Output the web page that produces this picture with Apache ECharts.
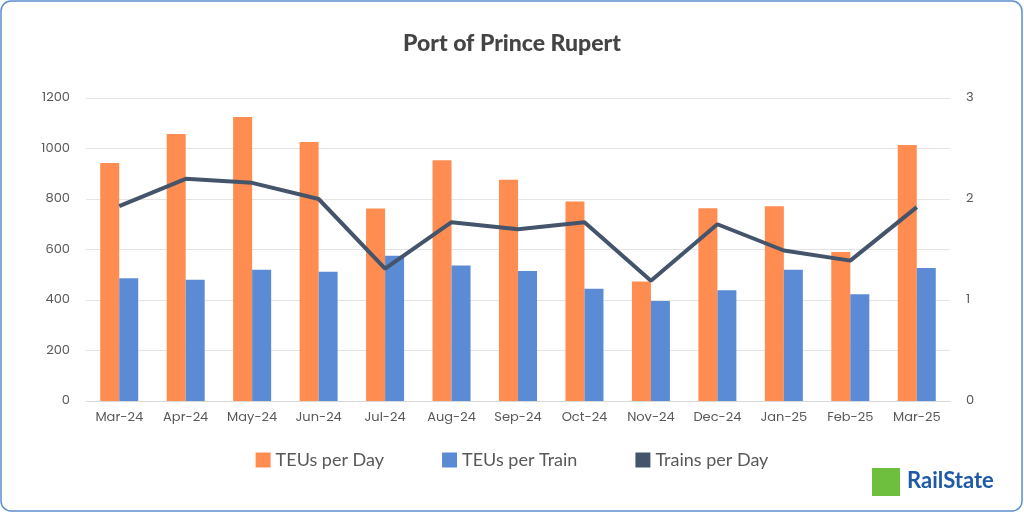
<!DOCTYPE html>
<html><head><meta charset="utf-8">
<script src="https://cdn.jsdelivr.net/npm/echarts@6/dist/echarts.min.js"></script>
<style>html,body{margin:0;padding:0;background:#fff}#c{width:1024px;height:513px}</style>
</head><body><div id="c"></div>
<script>
const categories=['Mar-24','Apr-24','May-24','Jun-24','Jul-24','Aug-24','Sep-24','Oct-24','Nov-24','Dec-24','Jan-25','Feb-25','Mar-25'];
const teusPerDay=[943,1057,1125,1026,762,953,876,790,473,763,771,590,1014];
const teusPerTrain=[486,480,520,512,575,537,515,445,396,439,520,423,527];
const trainsPerDay=[1.93,2.20,2.16,2.00,1.31,1.77,1.70,1.77,1.19,1.75,1.49,1.39,1.92];
const leftTicks=[0,200,400,600,800,1000,1200];
const rightTicks=[0,1,2,3];
const chart=echarts.init(document.getElementById('c'));
const lab={color:'#595959',fontSize:13,fontFamily:'Poppins, Lato, sans-serif'};
chart.setOption({
  animation:false,
  graphic:[
    {type:'rect',shape:{x:1,y:1,width:1021,height:510,r:10},style:{fill:'none',stroke:'#5b8fd0',lineWidth:1.5}},
    {type:'rect',shape:{x:872,y:468,width:28,height:28},style:{fill:'#6fbf3f'}},
    {type:'text',left:907,top:470,style:{text:'RailState',fill:'#1f5aa8',font:'bold 22px Lato, sans-serif'}}
  ],
  title:{text:'Port of Prince Rupert',left:'center',top:27,textStyle:{fontFamily:'Lato, sans-serif',fontWeight:900,fontSize:23,color:'#444'}},
  legend:{bottom:39,itemGap:58,itemWidth:15,itemHeight:15,textStyle:{fontSize:18,color:'#595959',fontFamily:'Lato, sans-serif'},
    data:[{name:'TEUs per Day',icon:'rect'},{name:'TEUs per Train',icon:'rect'},{name:'Trains per Day',icon:'rect',itemStyle:{color:'#44546a'}}]},
  grid:{left:86,right:74,top:98,bottom:112},
  xAxis:{type:'category',data:categories,axisTick:{show:false},axisLine:{lineStyle:{color:'#d9d9d9'}},axisLabel:Object.assign({margin:10},lab)},
  yAxis:[
    {type:'value',min:0,max:1200,interval:200,axisLabel:Object.assign({margin:16,formatter:v=>String(v)},lab),splitLine:{lineStyle:{color:'#e4e4e4'}}},
    {type:'value',min:0,max:3,interval:1,axisLabel:Object.assign({margin:16},lab),splitLine:{show:false}}
  ],
  series:[
    {name:'TEUs per Day',type:'bar',data:teusPerDay,barWidth:19,barGap:'0%',itemStyle:{color:'#ff8c50'}},
    {name:'TEUs per Train',type:'bar',data:teusPerTrain,barWidth:19,itemStyle:{color:'#5a8bd4'}},
    {name:'Trains per Day',type:'line',yAxisIndex:1,data:trainsPerDay,symbol:'none',lineStyle:{color:'#44546a',width:4},itemStyle:{color:'#44546a'}}
  ]
});
</script></body></html>
